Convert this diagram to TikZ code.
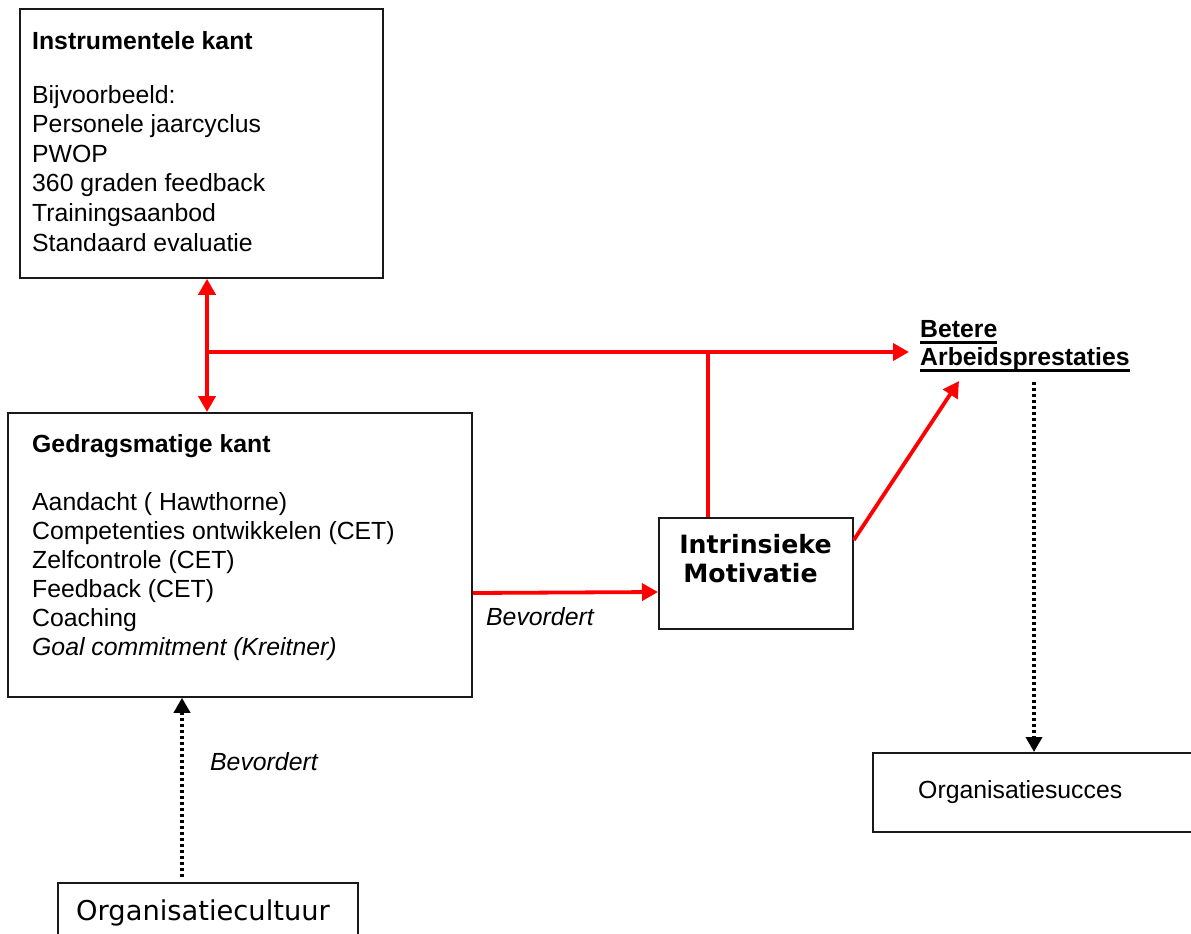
\documentclass[tikz,border=0pt]{standalone}
\usepackage{fontspec}
\setmainfont{Liberation Sans}
\newfontfamily\verd{DejaVu Sans}
\usetikzlibrary{arrows.meta,calc}
\newcommand\ulin[1]{\leavevmode\setbox0\hbox{#1}\rlap{\rule[-7pt]{\wd0}{2.8pt}}\box0}
\begin{document}
\begin{tikzpicture}[x=1pt,y=-1pt,
  box/.style={draw=black!90,line width=1.8pt,inner sep=0pt,anchor=north west},
  txt/.style={anchor=base west,inner sep=0pt,font=\fontsize{24.8}{29}\selectfont},
  vtxt/.style={anchor=base,inner sep=0pt,font=\verd\bfseries\fontsize{25.2}{29}\selectfont},
  redline/.style={draw=red,line width=3.8pt},
  redarr/.style={redline,-{Triangle[width=17pt,length=16pt]}},
  reddbl/.style={redline,{Triangle[width=17pt,length=16pt]}-{Triangle[width=17pt,length=16pt]}},
  dotarr/.style={draw=black,line width=3.6pt,dash pattern=on 3pt off 3pt,-{Triangle[width=16pt,length=15pt]}}]
\useasboundingbox (0,0) rectangle (1191,934);

% boxes
\node[box,minimum width=363pt,minimum height=269pt] (instr) at (19,8) {};
\node[box,minimum width=464pt,minimum height=284pt] (gedr) at (7,412) {};
\node[box,minimum width=194pt,minimum height=111pt] (intr) at (658,517) {};
\node[box,minimum width=340pt,minimum height=79pt] (succ) at (872,752) {};
\node[box,minimum width=300pt,minimum height=80pt] (cult) at (57,882) {};

% Instrumentele kant
\node[txt,font=\bfseries\fontsize{24.8}{29}\selectfont] (i0) at (32,49) {Instrumentele kant};
\node[txt] (i1) at (32,103) {Bijvoorbeeld:};
\node[txt] (i2) at (32,132.6) {Personele jaarcyclus};
\node[txt] (i3) at (32,162.2) {PWOP};
\node[txt] (i4) at (32,191.8) {360 graden feedback};
\node[txt] (i5) at (32,221.4) {Trainingsaanbod};
\node[txt] (i6) at (32,251) {Standaard evaluatie};

% Gedragsmatige kant
\node[txt,font=\bfseries\fontsize{24.8}{29}\selectfont] (g0) at (32,452) {Gedragsmatige kant};
\node[txt] (g1) at (32,510) {Aandacht ( Hawthorne)};
\node[txt] (g2) at (32,539) {Competenties ontwikkelen (CET)};
\node[txt] (g3) at (32,568) {Zelfcontrole (CET)};
\node[txt] (g4) at (32,597) {Feedback (CET)};
\node[txt] (g5) at (32,626) {Coaching};
\node[txt,font=\itshape\fontsize{24.8}{29}\selectfont] (g6) at (32,655) {Goal commitment (Kreitner)};

% Intrinsieke Motivatie
\node[vtxt] (m1) at (755.5,553) {Intrinsieke};
\node[vtxt] (m2) at (750.5,582) {Motivatie};

% Betere Arbeidsprestaties
\node[txt,font=\bfseries\fontsize{24.8}{29}\selectfont] (b1) at (920,337) {\ulin{Betere}};
\node[txt,font=\bfseries\fontsize{24.8}{29}\selectfont] (b2) at (920,365) {\ulin{Arbeidsprestaties}};

% other labels
\node[txt] (s1) at (918,798) {Organisatiesucces};
\node[txt,font=\itshape\fontsize{24.8}{29}\selectfont] (bv1) at (486,625) {Bevordert};
\node[txt,font=\itshape\fontsize{24.8}{29}\selectfont] (bv2) at (210,770) {Bevordert};
\node[anchor=base west,inner sep=0pt,font=\verd\fontsize{27.3}{30}\selectfont] (c1) at (76,920) {Organisatiecultuur};

% connectors
\coordinate (j) at (207,352);
\coordinate (m) at (708,352);
\coordinate (bt) at (909,352);
\coordinate (bd) at (959,381);
\coordinate (sd) at (1034,382);
\coordinate (cu) at (182,877);

\draw[reddbl] (instr.south -| j) -- (gedr.north -| j);
\draw[redarr] (j) -- (bt);
\draw[redline] (m) -- (m |- intr.north);
\draw[redarr] (gedr.east |- 0,593) -- (intr.west |- 0,592);
\draw[redarr] ($(intr.north east)+(0,23)$) -- (bd);
\draw[dotarr] (sd) -- (succ.north -| sd);
\draw[dotarr] (cu) -- (gedr.south -| cu);
\end{tikzpicture}
\end{document}
